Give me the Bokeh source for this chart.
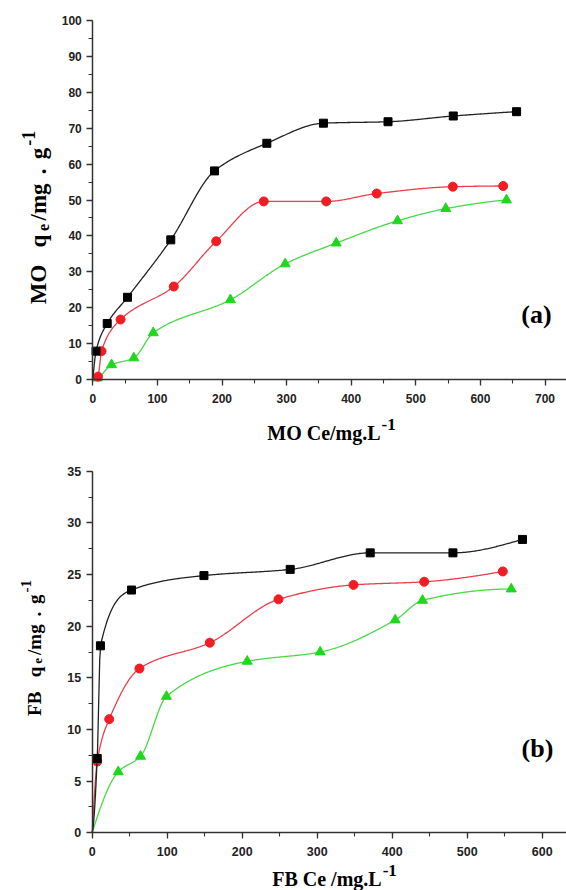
import numpy as np
from bokeh.plotting import figure
from bokeh.layouts import column
from bokeh.models import Label, SingleIntervalTicker, Range1d
from bokeh.embed import file_html
from bokeh.resources import INLINE

# ---------------- data ----------------
# (a) MO
mo_black_x = [5, 22.3, 53.7, 120.7, 188.4, 269.4, 357, 457, 558, 656]
mo_black_y = [7.9, 15.6, 22.9, 38.9, 58.1, 65.8, 71.4, 71.8, 73.4, 74.6]
mo_red_x = [8, 13.5, 43, 125.4, 191, 264.7, 361.3, 439.6, 557.3, 635.3]
mo_red_y = [0.8, 7.9, 16.7, 25.9, 38.5, 49.6, 49.6, 51.8, 53.7, 53.9]
mo_green_x = [7, 29, 63.5, 93.5, 213, 297.8, 376.8, 471.7, 546.4, 640.4]
mo_green_y = [0.4, 4.1, 6.0, 13.0, 22.2, 32.2, 38.0, 44.2, 47.6, 50.0]
mo_x_ticks_max, mo_y_ticks_max = 700, 100
# (b) FB
fb_black_x = [6.7, 11, 52.4, 149, 264, 370.7, 481, 573.7]
fb_black_y = [7.2, 18.1, 23.5, 24.9, 25.5, 27.1, 27.1, 28.4]
fb_red_x = [6.7, 22.7, 63, 156.8, 248.4, 348.4, 442.7, 547.5]
fb_red_y = [6.9, 11.0, 15.9, 18.4, 22.6, 24.0, 24.3, 25.3]
fb_green_x = [34.7, 64.4, 99, 206.7, 304, 404, 440.4, 558.7]
fb_green_y = [5.9, 7.4, 13.2, 16.6, 17.5, 20.6, 22.5, 23.6]
fb_x_ticks_max, fb_y_ticks_max = 600, 35

SERIF = "Liberation Serif"
SANS = "Liberation Sans"
C_BLACK, C_RED, C_GREEN = "#000000", "#f01e24", "#1ed81e"
L_BLACK, L_RED, L_GREEN = "#222222", "#e8404a", "#48d848"

# Times-Bold advance widths (em) for composing labels
TB = {'M': .944, 'O': .778, ' ': .25, 'q': .556, 'e': .444, '/': .278, 'm': .833,
      'g': .5, '.': .25, '-': .333, '1': .5, 'F': .611, 'B': .667, 'C': .722, 'L': .667}


def tw(s, size):
    return sum(TB[c] for c in s) * size


def pchip(x, y, xs):
    x = np.asarray(x, float); y = np.asarray(y, float)
    h = np.diff(x); d = np.diff(y) / h
    n = len(x); m = np.zeros(n)
    for k in range(1, n - 1):
        if d[k - 1] * d[k] > 0:
            w1 = 2 * h[k] + h[k - 1]; w2 = h[k] + 2 * h[k - 1]
            m[k] = (w1 + w2) / (w1 / d[k - 1] + w2 / d[k])
    def end(h0, h1, d0, d1):
        v = ((2 * h0 + h1) * d0 - h0 * d1) / (h0 + h1)
        if np.sign(v) != np.sign(d0):
            v = 0
        elif np.sign(d0) != np.sign(d1) and abs(v) > abs(3 * d0):
            v = 3 * d0
        return v
    m[0] = end(h[0], h[1], d[0], d[1])
    m[-1] = end(h[-1], h[-2], d[-1], d[-2])
    idx = np.clip(np.searchsorted(x, xs) - 1, 0, n - 2)
    t = (xs - x[idx]) / h[idx]
    h00 = 2 * t**3 - 3 * t**2 + 1; h10 = t**3 - 2 * t**2 + t
    h01 = -2 * t**3 + 3 * t**2; h11 = t**3 - t**2
    return h00 * y[idx] + h10 * h[idx] * m[idx] + h01 * y[idx + 1] + h11 * h[idx] * m[idx + 1]


def curve(xd, yd):
    xx = np.r_[0.0, xd]; yy = np.r_[0.0, yd]
    xs = np.linspace(0, xx[-1], 400)
    return xs, pchip(xx, yy, xs)


W = 566


class Geo:
    """Frame == whole canvas; data<->pixel mapping from axis origin and scale."""
    def __init__(self, h, ox, oy, sx, sy):
        self.h = h
        self.ox, self.oy, self.sx, self.sy = ox, oy, sx, sy  # pixel of (0,0), px per unit
        self.x0 = -ox / sx; self.x1 = (W - ox) / sx
        self.y1 = oy / sy; self.y0 = -(h - oy) / sy

    def d(self, fx, fy):
        return ((fx - self.ox) / self.sx, (self.oy - fy) / self.sy)


def make_fig(g, xint, yint, xmax, ymax, fsize):
    p = figure(width=W, height=g.h, output_backend="svg", toolbar_location=None,
               x_range=Range1d(g.x0, g.x1), y_range=Range1d(g.y0, g.y1),
               min_border_left=0, min_border_right=0,
               min_border_top=0, min_border_bottom=0, title=None)
    p.outline_line_color = None
    p.grid.visible = False
    p.background_fill_color = "white"
    p.xaxis.ticker = SingleIntervalTicker(interval=xint, num_minor_ticks=2)
    p.yaxis.ticker = SingleIntervalTicker(interval=yint, num_minor_ticks=2)
    p.xaxis.fixed_location = 0
    p.yaxis.fixed_location = 0
    p.xaxis.bounds = (0, g.x1)
    p.yaxis.bounds = (0, ymax)
    for ax in (p.xaxis, p.yaxis):
        ax.axis_line_color = "#333333"
        ax.axis_line_width = 1.5
        ax.major_tick_line_color = "#333333"
        ax.minor_tick_line_color = "#333333"
        ax.major_tick_line_width = 1.3
        ax.minor_tick_line_width = 1.1
        ax.major_tick_in = 0
        ax.major_tick_out = 6
        ax.minor_tick_in = 0
        ax.minor_tick_out = 4
        ax.major_label_text_font = SANS
        ax.major_label_text_font_style = "bold"
        ax.major_label_text_color = "#222222"
        ax.major_label_text_font_size = fsize
    p.xaxis.major_label_standoff = 8
    p.yaxis.major_label_standoff = 5
    return p


def lab(p, x, y, text, size, **kw):
    p.add_layout(Label(x=x, y=y, text=text, text_font=SERIF, text_font_style="bold",
                       text_font_size=f"{size}px", text_color="black", **kw))


def hlabel(p, g, pieces, cx, fy):
    total = sum(tw(t, s) + gap for t, s, r, gap in pieces)
    x = cx - total / 2
    for text, size, rise, gap in pieces:
        dx, dy = g.d(x, fy - rise)
        lab(p, dx, dy, text, size, text_align="left", text_baseline="alphabetic")
        x += tw(text, size) + gap


def vlabel(p, g, pieces, fx, cy):
    total = sum(tw(t, s) + gap for t, s, r, gap in pieces)
    y = cy + total / 2
    for text, size, rise, gap in pieces:
        dx, dy = g.d(fx - rise, y)
        lab(p, dx, dy, text, size, angle=np.pi / 2, text_align="left", text_baseline="alphabetic")
        y -= tw(text, size) + gap


def series(p, xd, yd, marker, size, fill, line):
    xs, ys = curve(xd, yd)
    p.line(xs, ys, line_color=line, line_width=1.3)
    p.scatter(xd, yd, marker=marker, size=size, fill_color=fill, line_color=fill)


def ylab_pieces(head, F, track):
    return [(head, F, 0, 0.6 * F + track), ("q", F, 0, track), ("e", round(0.7 * F), -0.22 * F, track),
            ("/mg", F, 0, 0.25 * F + track), (".", F, 0, 0.25 * F + track), ("g", F, 0, 2),
            ("-1", round(0.8 * F), 0.42 * F, 0)]


# ---------------- (a) ----------------
g1 = Geo(445, 92.3, 379.0, 0.646, 3.59)
p1 = make_fig(g1, 100, 10, mo_x_ticks_max, mo_y_ticks_max, "12px")
series(p1, mo_green_x, mo_green_y, "triangle", 10, C_GREEN, L_GREEN)
series(p1, mo_red_x, mo_red_y, "circle", 9, C_RED, L_RED)
series(p1, mo_black_x, mo_black_y, "square", 8, C_BLACK, L_BLACK)

vlabel(p1, g1, ylab_pieces("MO", 23, 3.5), 37.5, 217)
hlabel(p1, g1, [("MO Ce/mg.L", 20, 0, 1), ("-1", 17, 8, 0)], 331, 432)
ax, ay = g1.d(536, 314)
lab(p1, ax, ay, "(a)", 26, text_align="center", text_baseline="middle")

# ---------------- (b) ----------------
TOP2 = 445
g2 = Geo(445, 91.7, 832.3 - TOP2, 0.75, 10.33)
p2 = make_fig(g2, 100, 5, fb_x_ticks_max, fb_y_ticks_max, "12.5px")
series(p2, fb_green_x, fb_green_y, "triangle", 10, C_GREEN, L_GREEN)
series(p2, fb_red_x, fb_red_y, "circle", 9, C_RED, L_RED)
series(p2, fb_black_x, fb_black_y, "square", 8, C_BLACK, L_BLACK)

vlabel(p2, g2, ylab_pieces("FB", 19, 3), 33.5, 647.5 - TOP2)
hlabel(p2, g2, [("FB Ce /mg.L", 20, 0, 1), ("-1", 17, 8, 0)], 334, 878 - TOP2)
bx, by = g2.d(537, 748 - TOP2)
lab(p2, bx, by, "(b)", 26, text_align="center", text_baseline="middle")

layout = column(p1, p2, spacing=0)
open("out.html", "w").write(file_html(layout, INLINE))
